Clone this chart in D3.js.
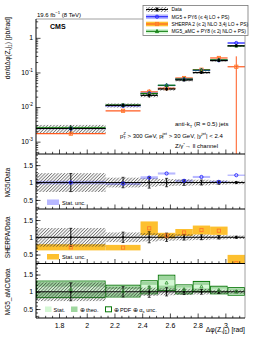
<!DOCTYPE html>
<html><head><meta charset="utf-8">
<script src="https://cdn.jsdelivr.net/npm/d3@7"></script>
<style>html,body{margin:0;padding:0;background:#fff}svg{display:block;font-family:"Liberation Sans",Arial,sans-serif}</style>
</head><body><svg id="c" width="266" height="344"></svg>
<script>
// ---- data ----
const binEdges = [1.634, 2.136, 2.388, 2.513, 2.639, 2.765, 2.890, 3.016, 3.1416];
const dataVal  = [0.0024, 0.0112, 0.0218, 0.0333, 0.0606, 0.099, 0.22, 0.586];
const dataStat = [0.26, 0.15, 0.16, 0.12, 0.08, 0.07, 0.05, 0.03];   // relative
const dataSyst = [0.27, 0.14, 0.12, 0.10, 0.09, 0.08, 0.06, 0.05];   // relative
const mg5Val   = [0.0024, 0.0109, 0.0249, 0.042, 0.0636, 0.115, 0.224, 0.709];
const sherpaVal= [0.0017, 0.0078, 0.0275, 0.035, 0.069, 0.12, 0.262, 0.146];
const amcVal   = [0.0025, 0.0114, 0.0246, 0.0426, 0.0642, 0.118, 0.231, 0.586];
const mg5MainErr    = [0.05, 0.04, 0.04, 0.03, 0.03, 0.03, 0.03, 0.02];
const sherpaMainErr = [0.09, 0.08, 0.2, 0.08, 0.1, 0.12, 0.12, 1.0];
const amcMainErr    = [0.08, 0.06, 0.06, 0.05, 0.04, 0.04, 0.03, 0.03];
const mg5Ratio    = [1.0, 0.97, 1.14, 1.26, 1.05, 1.16, 1.02, 1.21];
const mg5RatioErr = [0.05, 0.04, 0.04, 0.03, 0.03, 0.03, 0.03, 0.02];
const sherpaRatio    = [0.71, 0.70, 1.26, 1.05, 1.14, 1.21, 1.19, 0.25];
const sherpaRatioErr = [0.09, 0.08, 0.2, 0.08, 0.1, 0.13, 0.12, 0.24];
const amcRatio    = [1.07, 1.02, 1.13, 1.26, 1.07, 1.15, 1.05, 1.01];
const amcTotErr   = [0.24, 0.17, 0.19, 0.22, 0.13, 0.15, 0.11, 0.11];
const amcTheoErr  = [0.22, 0.15, 0.17, 0.20, 0.11, 0.13, 0.09, 0.09];
const amcStatErr  = [0.08, 0.06, 0.07, 0.08, 0.05, 0.05, 0.04, 0.04];
const xMajor = [1.8, 2.0, 2.2, 2.4, 2.6, 2.8, 3.0];
const xMajorLabels = ["1.8", "2", "2.2", "2.4", "2.6", "2.8", "3"];
const ratioMajor = [0.5, 1, 1.5];
const ratioLabels = ["0.5", "1", "1.5"];
const mainDecades = [-3, -2, -1, 0];
const legendLabels = ["Data", "MG5 + PY6 (\u2264 4j LO + PS)", "SHERPA 2 (\u2264 2j NLO 3,4j LO + PS)", "MG5_aMC + PY8 (\u2264 2j NLO + PS)"];

// ---- layout ----
const svg = d3.select("#c");
const L = 36, R = 245;
const mainTop = 19, mainBot = 154;
const panels = [[154, 209], [209, 263.5], [263.5, 318]];
const x = d3.scaleLinear().domain([binEdges[0], binEdges[8]]).range([L, R]);
const yM = d3.scaleLog().domain([4.4e-4, 3.5]).range([mainBot, mainTop]);
const yR = panels.map(p => d3.scaleLinear().domain([0.24, 1.82]).range([p[1], p[0]]));
const col = {blue: "#2020ff", blueBand: "#b8b8ff", orange: "#ff5a1f", orangeBand: "#fdc02f",
  green: "#0b7a0b", greenStat: "#d4f7d4", greenTheo: "#9fd69f", sq: "#ff7a2a"};
const font = "Liberation Sans, Arial, sans-serif";

const defs = svg.append("defs");
const pat = defs.append("pattern").attr("id", "hatch").attr("patternUnits", "userSpaceOnUse")
  .attr("width", 2.3).attr("height", 2.3).attr("patternTransform", "rotate(45)");
pat.append("line").attr("x1", 0.5).attr("y1", 0).attr("x2", 0.5).attr("y2", 2.3)
  .attr("stroke", "#222").attr("stroke-width", 0.55);
function clip(id, y0, y1) {
  defs.append("clipPath").attr("id", id).append("rect").attr("x", L).attr("y", y0).attr("width", R - L).attr("height", y1 - y0);
}
clip("cm", mainTop, mainBot);
panels.forEach((p, i) => clip("cr" + i, p[0], p[1]));

const bins = d3.range(8).map(i => ({i, x0: x(binEdges[i]), x1: x(binEdges[i + 1]), xc: (x(binEdges[i]) + x(binEdges[i + 1])) / 2}));

function marker(g, type, cx, cy, color, s) {
  s = s || 1.8;
  if (type === "circle") g.append("circle").attr("cx", cx).attr("cy", cy).attr("r", s).attr("fill", "none").attr("stroke", color).attr("stroke-width", 0.9);
  else if (type === "square") g.append("rect").attr("x", cx - s).attr("y", cy - s).attr("width", 2 * s).attr("height", 2 * s).attr("fill", "none").attr("stroke", color).attr("stroke-width", 0.9);
  else if (type === "tri") g.append("path").attr("d", `M${cx},${cy - s - 0.3}L${cx + s},${cy + s * 0.8}L${cx - s},${cy + s * 0.8}Z`).attr("fill", "none").attr("stroke", color).attr("stroke-width", 0.9);
  else if (type === "dot") g.append("circle").attr("cx", cx).attr("cy", cy).attr("r", s).attr("fill", "#000");
}

// ---- main panel ----
const gm = svg.append("g").attr("clip-path", "url(#cm)");
bins.forEach(b => {
  const i = b.i;
  // MG5 band+line
  gm.append("rect").attr("x", b.x0).attr("width", b.x1 - b.x0).attr("y", yM(mg5Val[i] * (1 + mg5MainErr[i]))).attr("height", yM(mg5Val[i] * (1 - mg5MainErr[i])) - yM(mg5Val[i] * (1 + mg5MainErr[i]))).attr("fill", col.blueBand);
  // aMC band
  gm.append("rect").attr("x", b.x0).attr("width", b.x1 - b.x0).attr("y", yM(amcVal[i] * (1 + amcMainErr[i]))).attr("height", yM(amcVal[i] * (1 - amcMainErr[i])) - yM(amcVal[i] * (1 + amcMainErr[i]))).attr("fill", col.greenStat);
  // data hatch
  gm.append("rect").attr("x", b.x0).attr("width", b.x1 - b.x0).attr("y", yM(dataVal[i] * (1 + dataSyst[i]))).attr("height", yM(dataVal[i] * (1 - dataSyst[i])) - yM(dataVal[i] * (1 + dataSyst[i]))).attr("fill", "url(#hatch)");
  // lines
  [[sherpaVal, col.orange], [mg5Val, col.blue], [amcVal, col.green]].forEach(([v, c]) => {
    gm.append("line").attr("x1", b.x0).attr("x2", b.x1).attr("y1", yM(v[i])).attr("y2", yM(v[i])).attr("stroke", c).attr("stroke-width", 1.2);
  });
  // sherpa error bar
  const lo = sherpaVal[i] * (1 - sherpaMainErr[i]);
  gm.append("line").attr("x1", b.xc).attr("x2", b.xc).attr("y1", yM(sherpaVal[i] * (1 + sherpaMainErr[i]))).attr("y2", lo > 0 ? yM(lo) : mainBot).attr("stroke", col.orange).attr("stroke-width", 1);
  // data
  gm.append("line").attr("x1", b.x0).attr("x2", b.x1).attr("y1", yM(dataVal[i])).attr("y2", yM(dataVal[i])).attr("stroke", "#000").attr("stroke-width", 1.2);
  gm.append("line").attr("x1", b.xc).attr("x2", b.xc).attr("y1", yM(dataVal[i] * (1 + dataStat[i]))).attr("y2", yM(dataVal[i] * (1 - dataStat[i]))).attr("stroke", "#000").attr("stroke-width", 0.9);
  marker(gm, "square", b.xc, yM(sherpaVal[i]), col.sq, 1.6);
  marker(gm, "circle", b.xc, yM(mg5Val[i]), col.blue, 1.6);
  marker(gm, "tri", b.xc, yM(amcVal[i]), col.green, 1.5);
  marker(gm, "dot", b.xc, yM(dataVal[i]), "#000", 1.5);
});

// ---- ratio panels ----
function ratioPanel(k) {
  const y = yR[k];
  const g = svg.append("g").attr("clip-path", `url(#cr${k})`);
  bins.forEach(b => {
    const i = b.i;
    if (k === 0) {
      g.append("rect").attr("x", b.x0).attr("width", b.x1 - b.x0).attr("y", y(mg5Ratio[i] + mg5RatioErr[i])).attr("height", y(mg5Ratio[i] - mg5RatioErr[i]) - y(mg5Ratio[i] + mg5RatioErr[i])).attr("fill", col.blueBand);
    } else if (k === 1) {
      g.append("rect").attr("x", b.x0).attr("width", b.x1 - b.x0).attr("y", y(sherpaRatio[i] + sherpaRatioErr[i])).attr("height", y(sherpaRatio[i] - sherpaRatioErr[i]) - y(sherpaRatio[i] + sherpaRatioErr[i])).attr("fill", col.orangeBand);
    } else {
      g.append("rect").attr("x", b.x0 + 0.5).attr("width", b.x1 - b.x0 - 1).attr("y", y(amcRatio[i] + amcTotErr[i])).attr("height", y(amcRatio[i] - amcTotErr[i]) - y(amcRatio[i] + amcTotErr[i])).attr("fill", "none").attr("stroke", col.green).attr("stroke-width", 1);
      g.append("rect").attr("x", b.x0 + 1).attr("width", b.x1 - b.x0 - 2).attr("y", y(amcRatio[i] + amcTheoErr[i])).attr("height", y(amcRatio[i] - amcTheoErr[i]) - y(amcRatio[i] + amcTheoErr[i])).attr("fill", col.greenTheo);
      g.append("rect").attr("x", b.x0 + 1).attr("width", b.x1 - b.x0 - 2).attr("y", y(amcRatio[i] + amcStatErr[i])).attr("height", y(amcRatio[i] - amcStatErr[i]) - y(amcRatio[i] + amcStatErr[i])).attr("fill", col.greenStat);
    }
    g.append("rect").attr("x", b.x0).attr("width", b.x1 - b.x0).attr("y", y(1 + dataSyst[i])).attr("height", y(1 - dataSyst[i]) - y(1 + dataSyst[i])).attr("fill", "url(#hatch)");
  });
  g.append("line").attr("x1", L).attr("x2", R).attr("y1", y(1)).attr("y2", y(1)).attr("stroke", "#000").attr("stroke-width", 1);
  bins.forEach(b => {
    const i = b.i;
    g.append("line").attr("x1", b.xc).attr("x2", b.xc).attr("y1", y(1 + dataStat[i])).attr("y2", y(1 - dataStat[i])).attr("stroke", "#000").attr("stroke-width", 0.9);
    g.append("line").attr("x1", b.xc - 1.5).attr("x2", b.xc + 1.5).attr("y1", y(1 + dataStat[i])).attr("y2", y(1 + dataStat[i])).attr("stroke", "#000").attr("stroke-width", 0.7);
    g.append("line").attr("x1", b.xc - 1.5).attr("x2", b.xc + 1.5).attr("y1", y(1 - dataStat[i])).attr("y2", y(1 - dataStat[i])).attr("stroke", "#000").attr("stroke-width", 0.7);
    marker(g, "dot", b.xc, y(1), "#000", 1.1);
    if (k === 0) marker(g, "circle", b.xc, y(mg5Ratio[i]), col.blue, 1.6);
    else if (k === 1) marker(g, "square", b.xc, y(sherpaRatio[i]), col.sq, 1.6);
    else marker(g, "tri", b.xc, y(amcRatio[i]), "#3a9a3a", 1.5);
  });
  // y axis
  const ax = svg.append("g").attr("transform", `translate(${L},0)`)
    .call(d3.axisLeft(y).tickValues(d3.range(0.3, 1.81, 0.1)).tickSize(-2).tickFormat(""));
  ax.select(".domain").remove();
  ax.selectAll("line").attr("stroke", "#000").attr("stroke-width", 0.7);
  const ax2 = svg.append("g").attr("transform", `translate(${L},0)`)
    .call(d3.axisLeft(y).tickValues(ratioMajor).tickSize(-4.5).tickPadding(3).tickFormat((d, j) => ratioLabels[j]));
  ax2.select(".domain").remove();
  ax2.selectAll("line").attr("stroke", "#000").attr("stroke-width", 0.7);
  ax2.selectAll("text").attr("font-size", 6.8).attr("font-family", font).attr("fill", "#000");
}
[0, 1, 2].forEach(ratioPanel);

// ---- x ticks at panel bottoms ----
const minorX = d3.range(1.65, 3.11, 0.05).filter(v => xMajor.every(m => Math.abs(m - v) > 1e-6));
[mainBot, panels[0][1], panels[1][1], panels[2][1]].forEach((yb, j) => {
  const a = svg.append("g").attr("transform", `translate(0,${yb})`)
    .call(d3.axisBottom(x).tickValues(minorX).tickSize(-2.2).tickFormat(""));
  a.select(".domain").remove();
  a.selectAll("line").attr("stroke", "#000").attr("stroke-width", 0.7);
  const b = svg.append("g").attr("transform", `translate(0,${yb})`)
    .call(d3.axisBottom(x).tickValues(xMajor).tickSize(-4.5).tickPadding(5).tickFormat((d, k) => j === 3 ? xMajorLabels[k] : ""));
  b.select(".domain").remove();
  b.selectAll("line").attr("stroke", "#000").attr("stroke-width", 0.7);
  b.selectAll("text").attr("font-size", 7).attr("font-family", font).attr("fill", "#000");
});

// ---- main y axis ----
const minorY = [];
for (let e = -4; e <= 0; e++) for (let m = 2; m <= 9; m++) { const v = m * Math.pow(10, e); if (v > 4.4e-4 && v < 3.5) minorY.push(v); }
const am = svg.append("g").attr("transform", `translate(${L},0)`).call(d3.axisLeft(yM).tickValues(minorY).tickSize(-2.2).tickFormat(""));
am.select(".domain").remove();
am.selectAll("line").attr("stroke", "#000").attr("stroke-width", 0.7);
const am2 = svg.append("g").attr("transform", `translate(${L},0)`).call(d3.axisLeft(yM).tickValues(mainDecades.map(e => Math.pow(10, e))).tickSize(-4.5).tickFormat(""));
am2.select(".domain").remove();
am2.selectAll("line").attr("stroke", "#000").attr("stroke-width", 0.7);
mainDecades.forEach(e => {
  const t = svg.append("text").attr("x", L - 3).attr("y", yM(Math.pow(10, e)) + 2.4).attr("text-anchor", "end").attr("font-size", 6.8).attr("font-family", font);
  if (e === 0) t.text("1");
  else { t.append("tspan").text("10"); t.append("tspan").attr("dy", -3).attr("font-size", 4.8).text(String(e)); }
});

// ---- frame ----
svg.append("line").attr("x1", L).attr("x2", R).attr("y1", mainTop).attr("y2", mainTop).attr("stroke", "#888").attr("stroke-width", 0.8);
svg.append("line").attr("x1", R).attr("x2", R).attr("y1", mainTop).attr("y2", panels[2][1]).attr("stroke", "#888").attr("stroke-width", 0.8);
svg.append("line").attr("x1", L).attr("x2", L).attr("y1", mainTop).attr("y2", panels[2][1]).attr("stroke", "#000").attr("stroke-width", 1);
[mainBot, panels[0][1], panels[1][1], panels[2][1]].forEach(yb => {
  svg.append("line").attr("x1", L).attr("x2", R).attr("y1", yb).attr("y2", yb).attr("stroke", "#000").attr("stroke-width", 1);
});

// ---- texts ----
function txt(s, xx, yy, size, opts) {
  opts = opts || {};
  return svg.append("text").attr("x", xx).attr("y", yy).attr("font-size", size).attr("font-family", font)
    .attr("text-anchor", opts.anchor || "start").attr("font-weight", opts.bold ? "bold" : null).text(s);
}
const lumi = svg.append("text").attr("x", 37).attr("y", 16.5).attr("font-size", 6).attr("font-family", font);
lumi.append("tspan").text("19.6 fb");
lumi.append("tspan").attr("dy", -2.5).attr("font-size", 4.2).text("\u22121");
lumi.append("tspan").attr("dy", 2.5).text(" (8 TeV)");
txt("CMS", 50, 29, 7, {bold: true});

// y title main
const yt = svg.append("text").attr("transform", "translate(10,17) rotate(-90)").attr("text-anchor", "end").attr("font-size", 6.8).attr("font-family", font);
yt.append("tspan").text("d\u03c3/d\u0394\u03c6(Z,j");
yt.append("tspan").attr("dy", 1.8).attr("font-size", 4.8).text("1");
yt.append("tspan").attr("dy", -1.8).text(")  [pb/rad]");
// ratio titles
["MG5/Data", "SHERPA/Data", "MG5_aMC/Data"].forEach((s, k) => {
  svg.append("text").attr("transform", `translate(10,${yR[k](1)}) rotate(-90)`).attr("text-anchor", "middle").attr("font-size", 6.5).attr("font-family", font).text(s);
});
// x title
const xt = svg.append("text").attr("x", R).attr("y", 332).attr("text-anchor", "end").attr("font-size", 6.8).attr("font-family", font);
xt.append("tspan").text("\u0394\u03c6(Z,j");
xt.append("tspan").attr("dy", 1.8).attr("font-size", 4.8).text("1");
xt.append("tspan").attr("dy", -1.8).text(") [rad]");

// cut text
txt("", 0, 0, 1);
const t1 = svg.append("text").attr("x", 175).attr("y", 126).attr("font-size", 6).attr("font-family", font);
t1.append("tspan").text("anti-k"); t1.append("tspan").attr("dy", 1.6).attr("font-size", 4.2).text("T"); t1.append("tspan").attr("dy", -1.6).text(" (R = 0.5) jets");
const t2 = svg.append("text").attr("x", 120).attr("y", 137.5).attr("font-size", 6).attr("font-family", font);
function supsub(t, base, sup, sub) {
  t.append("tspan").text(base);
  const s1 = t.append("tspan").attr("dy", -2.6).attr("font-size", 4.2).text(sup);
  t.append("tspan").attr("dy", 0).attr("dx", -sup.length * 2.1).attr("dy", 4.3).attr("font-size", 4.2).text(sub);
  t.append("tspan").attr("dy", -1.7).text("");
}
t2.append("tspan").text("p");
t2.append("tspan").attr("dy", -2.6).attr("font-size", 4.2).text("Z");
t2.append("tspan").attr("dx", -2.6).attr("dy", 4.3).attr("font-size", 4.2).text("T");
t2.append("tspan").attr("dy", -1.7).text(" > 300 GeV, p");
t2.append("tspan").attr("dy", -2.6).attr("font-size", 4.2).text("jet");
t2.append("tspan").attr("dx", -5.5).attr("dy", 4.3).attr("font-size", 4.2).text("T");
t2.append("tspan").attr("dx", 3).attr("dy", -1.7).text(" > 30 GeV, |y");
t2.append("tspan").attr("dy", -2.6).attr("font-size", 4.2).text("jet");
t2.append("tspan").attr("dy", 2.6).text("| < 2.4");
const t3 = svg.append("text").attr("x", 175).attr("y", 148).attr("font-size", 6).attr("font-family", font);
t3.append("tspan").text("Z/\u03b3"); t3.append("tspan").attr("dy", -2.4).attr("font-size", 4.2).text("*"); t3.append("tspan").attr("dy", 2.4).text("\u2192 ll channel");

// ---- legend ----
const lg = svg.append("g");
lg.append("rect").attr("x", 143).attr("y", 5.5).attr("width", 105).attr("height", 30).attr("fill", "#fff").attr("stroke", "#777").attr("stroke-width", 0.8);
const rowY = [9.5, 16.7, 24, 31.3];
const sx0 = 146, sx1 = 168, sxc = 157;
// data
lg.append("rect").attr("x", sx0).attr("y", rowY[0] - 2.5).attr("width", sx1 - sx0).attr("height", 5).attr("fill", "url(#hatch)");
lg.append("line").attr("x1", sx0).attr("x2", sx1).attr("y1", rowY[0]).attr("y2", rowY[0]).attr("stroke", "#000").attr("stroke-width", 1);
lg.append("line").attr("x1", sxc).attr("x2", sxc).attr("y1", rowY[0] - 2.5).attr("y2", rowY[0] + 2.5).attr("stroke", "#000").attr("stroke-width", 0.8);
marker(lg, "dot", sxc, rowY[0], "#000", 1.4);
[[col.blueBand, col.blue, "circle", col.blue], [col.orangeBand, col.orange, "square", col.sq], [col.greenStat, col.green, "tri", col.green]].forEach(([band, line, m, mc], k) => {
  const yy = rowY[k + 1];
  lg.append("rect").attr("x", sx0).attr("y", yy - 2.3).attr("width", sx1 - sx0).attr("height", 4.6).attr("fill", band);
  lg.append("line").attr("x1", sx0).attr("x2", sx1).attr("y1", yy).attr("y2", yy).attr("stroke", line).attr("stroke-width", 1.1);
  marker(lg, m, sxc, yy, mc, 1.6);
});
legendLabels.forEach((s, k) => {
  lg.append("text").attr("x", 171.5).attr("y", rowY[k] + 1.8).attr("font-size", 4.9).attr("font-family", font).text(s);
});

// ---- ratio legends ----
svg.append("rect").attr("x", 47).attr("y", 199.5).attr("width", 12).attr("height", 5.5).attr("fill", col.blueBand);
txt("Stat. unc.", 62, 204.5, 5.6);
svg.append("rect").attr("x", 47).attr("y", 254).attr("width", 12).attr("height", 5.5).attr("fill", col.orangeBand);
txt("Stat. unc.", 62, 259, 5.6);
svg.append("rect").attr("x", 45).attr("y", 306.5).attr("width", 6.5).attr("height", 5.5).attr("fill", col.greenStat);
txt("Stat.", 53.5, 311.5, 5.6);
svg.append("rect").attr("x", 71).attr("y", 306.5).attr("width", 6.5).attr("height", 5.5).attr("fill", col.greenTheo);
txt("\u2295 theo.", 79.5, 311.5, 5.6);
svg.append("rect").attr("x", 105.5).attr("y", 306.8).attr("width", 6).attr("height", 5).attr("fill", "#fff").attr("stroke", col.green).attr("stroke-width", 1);
const tp = svg.append("text").attr("x", 113.5).attr("y", 311.5).attr("font-size", 5.6).attr("font-family", font);
tp.append("tspan").text("\u2295 PDF \u2295 \u03b1");
tp.append("tspan").attr("dy", 1.5).attr("font-size", 4).text("s");
tp.append("tspan").attr("dy", -1.5).text(" unc.");
</script></body></html>
